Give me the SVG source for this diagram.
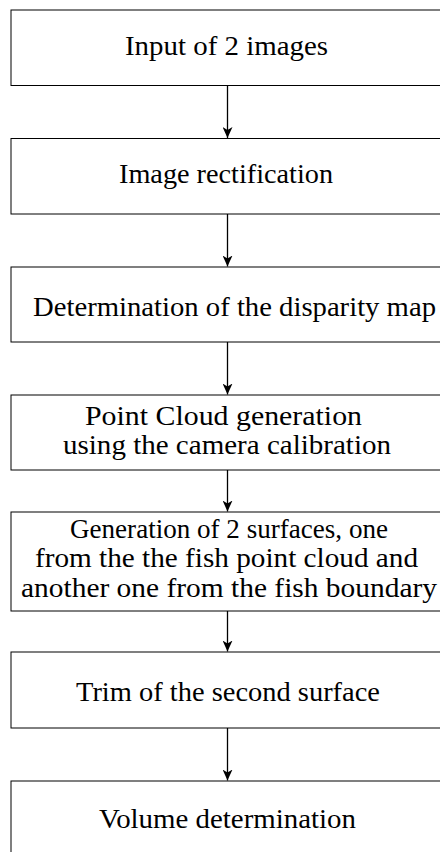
<svg xmlns="http://www.w3.org/2000/svg" width="440" height="852" viewBox="0 0 440 852">
  <style>
    .box { fill: #ffffff; stroke: #000000; stroke-width: 1; }
    .lbl { font-family: "Liberation Serif", "DejaVu Serif", serif; font-size: 28px; fill: #000000; }
    .edge { stroke: #000000; stroke-width: 1.3; fill: none; marker-end: url(#head); }
  </style>
  <defs>
    <marker id="head" viewBox="0 0 12 10" refX="11" refY="5" markerWidth="12" markerHeight="10" markerUnits="userSpaceOnUse" orient="auto">
      <path d="M0,0 L11,5 L0,10 L3,5 Z" fill="#000000"/>
    </marker>
  </defs>
  <rect width="440" height="852" fill="#ffffff"/>

  <g id="input">
    <rect class="box" x="11" y="10" width="440" height="75.5"/>
    <text class="lbl" x="125" y="55" textLength="203" lengthAdjust="spacingAndGlyphs">Input of 2 images</text>
  </g>

  <g id="rectification">
    <rect class="box" x="11" y="138.5" width="440" height="75.5"/>
    <text class="lbl" x="119" y="183" textLength="214" lengthAdjust="spacingAndGlyphs">Image rectification</text>
  </g>

  <g id="disparity">
    <rect class="box" x="11" y="267" width="440" height="75"/>
    <text class="lbl" x="33" y="316" textLength="403" lengthAdjust="spacingAndGlyphs">Determination of the disparity map</text>
  </g>

  <g id="pointcloud">
    <rect class="box" x="11" y="395" width="440" height="75"/>
    <text class="lbl" x="85" y="425" textLength="277" lengthAdjust="spacingAndGlyphs">Point Cloud generation</text>
    <text class="lbl" x="63" y="454" textLength="328" lengthAdjust="spacingAndGlyphs">using the camera calibration</text>
  </g>

  <g id="surfaces">
    <rect class="box" x="11" y="512" width="440" height="99"/>
    <text class="lbl" x="70" y="538" textLength="318" lengthAdjust="spacingAndGlyphs">Generation of 2 surfaces, one</text>
    <text class="lbl" x="35" y="567" textLength="383" lengthAdjust="spacingAndGlyphs">from the the fish point cloud and</text>
    <text class="lbl" x="21" y="597" textLength="416" lengthAdjust="spacingAndGlyphs">another one from the fish boundary</text>
  </g>

  <g id="trim">
    <rect class="box" x="11" y="652" width="440" height="76"/>
    <text class="lbl" x="76" y="701" textLength="304" lengthAdjust="spacingAndGlyphs">Trim of the second surface</text>
  </g>

  <g id="volume">
    <rect class="box" x="11" y="781" width="440" height="100"/>
    <text class="lbl" x="99" y="827.5" textLength="257" lengthAdjust="spacingAndGlyphs">Volume determination</text>
  </g>

  <g id="connectors">
    <line class="edge" x1="227.5" y1="85.5" x2="227.5" y2="138"/>
    <line class="edge" x1="227.5" y1="214" x2="227.5" y2="266.5"/>
    <line class="edge" x1="227.5" y1="342" x2="227.5" y2="394.5"/>
    <line class="edge" x1="227.5" y1="470" x2="227.5" y2="511.5"/>
    <line class="edge" x1="227.5" y1="611" x2="227.5" y2="651.5"/>
    <line class="edge" x1="227.5" y1="728" x2="227.5" y2="780.5"/>
  </g>
</svg>
